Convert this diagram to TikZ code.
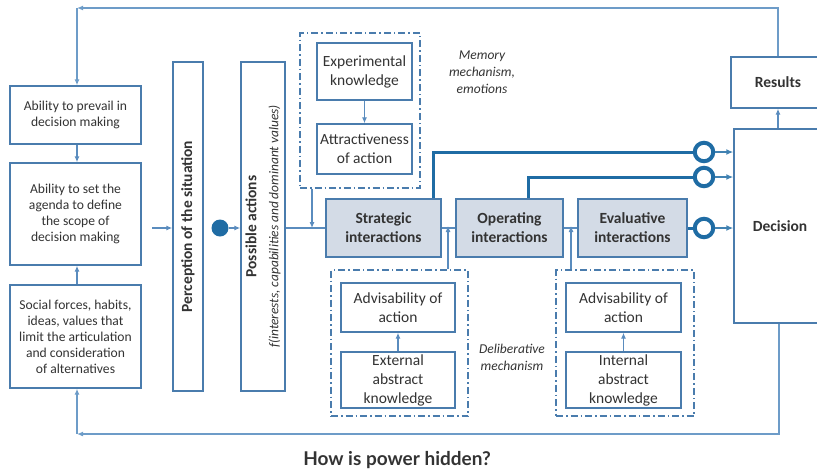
\documentclass[tikz,border=0pt]{standalone}
\usepackage{fontspec}
\setmainfont{Carlito}
\newfontfamily\titlefont{Lato}
\usetikzlibrary{arrows.meta}
\definecolor{ln}{HTML}{5A8CBE}
\definecolor{fbc}{HTML}{6D9CC8}
\definecolor{bd}{HTML}{4A7CAD}
\definecolor{dk}{HTML}{1F6CA4}
\definecolor{fl}{HTML}{D3DBE6}
\definecolor{tx}{HTML}{333333}
\tikzset{
  lbox/.style={draw=bd, line width=1.4pt, fill=white, text=tx, align=center, inner sep=1pt, font=\fontsize{13.6}{16}\selectfont},
  ibox/.style={draw=bd, line width=1.4pt, fill=white, text=tx, align=center, inner sep=1pt, font=\fontsize{15.5}{19}\selectfont},
  bbox/.style={draw=bd, line width=1.4pt, fill=white, text=tx, align=center, font=\bfseries\fontsize{15.5}{19}\selectfont},
  act/.style={draw=bd, line width=2pt, fill=fl, text=tx, align=center, font=\bfseries\fontsize{15.5}{19}\selectfont},
  dbox/.style={draw=bd, line width=1.4pt, dash pattern=on 7pt off 3pt on 1.5pt off 3pt},
  note/.style={text=tx, align=center, font=\itshape\fontsize{13.5}{17}\selectfont},
  arr/.style={draw=ln, line width=1.1pt, -{Latex[length=6pt,width=5pt]}},
  fb/.style={draw=fbc, line width=1.3pt},
  fbarr/.style={fb, -{Latex[length=6pt,width=5pt]}},
  con/.style={draw=ln, line width=1.1pt},
  heavy/.style={draw=dk, line width=3pt},
  heavyarr/.style={draw=dk!85!white, line width=1.8pt, -{Latex[length=7pt,width=6pt]}},
  ring/.style={circle, draw=dk, line width=4pt, fill=white, minimum size=18.5pt, inner sep=0pt},
}
\begin{document}
\begin{tikzpicture}[x=1pt,y=-1pt]
\useasboundingbox (0,0) rectangle (817,472);
% left boxes
\node[lbox, minimum width=131, minimum height=58] (b1) at (75.5,115) {Ability to prevail in\\decision making};
\node[lbox, minimum width=131, minimum height=102] (b2) at (75.5,214) {Ability to set the\\agenda to define\\the scope of\\decision making};
\node[lbox, minimum width=131, minimum height=103] (b3) at (75.5,336.5) {Social forces, habits,\\ideas, values that\\limit the articulation\\and consideration\\of alternatives};
% vertical boxes
\node[lbox, minimum width=30, minimum height=329] (perc) at (188,226.5) {};
\node[rotate=90, text=tx, font=\bfseries\fontsize{15.5}{19}\selectfont] (percT) at (perc.center) {Perception of the situation};
\node[lbox, minimum width=44, minimum height=329] (pa) at (263,226.5) {};
\node[rotate=90, text=tx, align=center, font=\fontsize{13.4}{22}\selectfont] (paT) at (pa.center) {{\bfseries\fontsize{15.5}{22}\selectfont Possible actions}\\{\itshape f(interests, capabilities and dominant values)}};
\node[circle, fill=dk, minimum size=17pt, inner sep=0pt] (dot) at (220,228) {};
% memory
\node[dbox, minimum width=120, minimum height=155] (mem) at (360,110.5) {};
\node[ibox, minimum width=95, minimum height=57] (exp) at (364.5,71.5) {Experimental\\knowledge};
\node[ibox, minimum width=95, minimum height=50] (attr) at (364.5,149) {Attractiveness\\of action};
\node[note] (memn) at (482,72) {Memory\\mechanism,\\emotions};
% interactions
\node[act, minimum width=115, minimum height=58] (strat) at (383.5,228) {Strategic\\interactions};
\node[act, minimum width=107, minimum height=58] (oper) at (509.5,228) {Operating\\interactions};
\node[act, minimum width=109, minimum height=58] (eval) at (632.5,228) {Evaluative\\interactions};
% deliberative
\node[dbox, minimum width=137, minimum height=146] (del1) at (399.5,343) {};
\node[ibox, minimum width=114, minimum height=49] (adv1) at (398,307.5) {Advisability of\\action};
\node[ibox, minimum width=114, minimum height=56] (ext1) at (398,380) {External\\abstract\\knowledge};
\node[dbox, minimum width=138, minimum height=146] (del2) at (625,343) {};
\node[ibox, minimum width=115, minimum height=49] (adv2) at (623.5,307.5) {Advisability of\\action};
\node[ibox, minimum width=115, minimum height=56] (int2) at (623.5,380) {Internal\\abstract\\knowledge};
\node[note] (deln) at (512,357.5) {Deliberative\\mechanism};
% decision & results
\node[bbox, minimum width=92, minimum height=194] (dec) at (780,226) {Decision};
\node[bbox, minimum width=94, minimum height=51] (res) at (778,82.5) {Results};
% rings
\node[ring] (r1) at (704,152) {};
\node[ring] (r2) at (704,177) {};
\node[ring] (r3) at (704,228) {};
% coordinates
\coordinate (a0) at (152,228);
\coordinate (lx) at (77,0);
\coordinate (tl) at (77,8);
\coordinate (tr) at (778,8);
\coordinate (bl) at (77,434);
\coordinate (br) at (779,434);
\coordinate (mx) at (312,0);
\coordinate (d1) at (448,0);
\coordinate (d2) at (571,0);
\coordinate (s1) at (433,0);
\coordinate (o1) at (528,0);
% connectors
\draw[arr] (b1.south -| lx) -- (b2.north -| lx);
\draw[arr] (b3.north -| lx) -- (b2.south -| lx);
\draw[arr] (a0) -- (perc.west |- a0);
\draw[arr] (dot.east) -- (pa.west |- dot);
\draw[con] (pa.east |- dot) -- (strat.west);
\draw[arr] (mem.south -| mx) -- (mx |- dot);
\draw[arr] (exp) -- (attr);
\draw[con] (strat.east) -- (oper.west);
\draw[con] (oper.east) -- (eval.west);
\draw[arr] (ext1) -- (adv1);
\draw[arr] (int2) -- (adv2);
\draw[arr] (del1.north -| d1) -- ([yshift=2pt]d1 |- dot);
\draw[arr] (del2.north -| d2) -- ([yshift=2pt]d2 |- dot);
\draw[heavy] (strat.north -| s1) |- (r1.west);
\draw[heavy] (oper.north -| o1) |- (r2.west);
\draw[heavy] (eval.east) -- (r3.west);
\draw[heavyarr] (r1.east) -- (dec.west |- r1);
\draw[heavyarr] (r2.east) -- (dec.west |- r2);
\draw[heavyarr] (r3.east) -- (dec.west |- r3);
\draw[arr] (dec.north -| tr) -- (res.south -| tr);
\draw[fbarr] (res.north -| tr) -- (tr) -- (tl);
\draw[fbarr] (tl) -- (b1.north -| tl);
\draw[fbarr] (dec.south -| br) -- (br) -- (bl);
\draw[fbarr] (bl) -- (b3.south -| bl);
% title
\node[text=tx, font=\titlefont\bfseries\fontsize{19}{22}\selectfont] (title) at (397,460) {How is power hidden?};
\end{tikzpicture}
\end{document}
